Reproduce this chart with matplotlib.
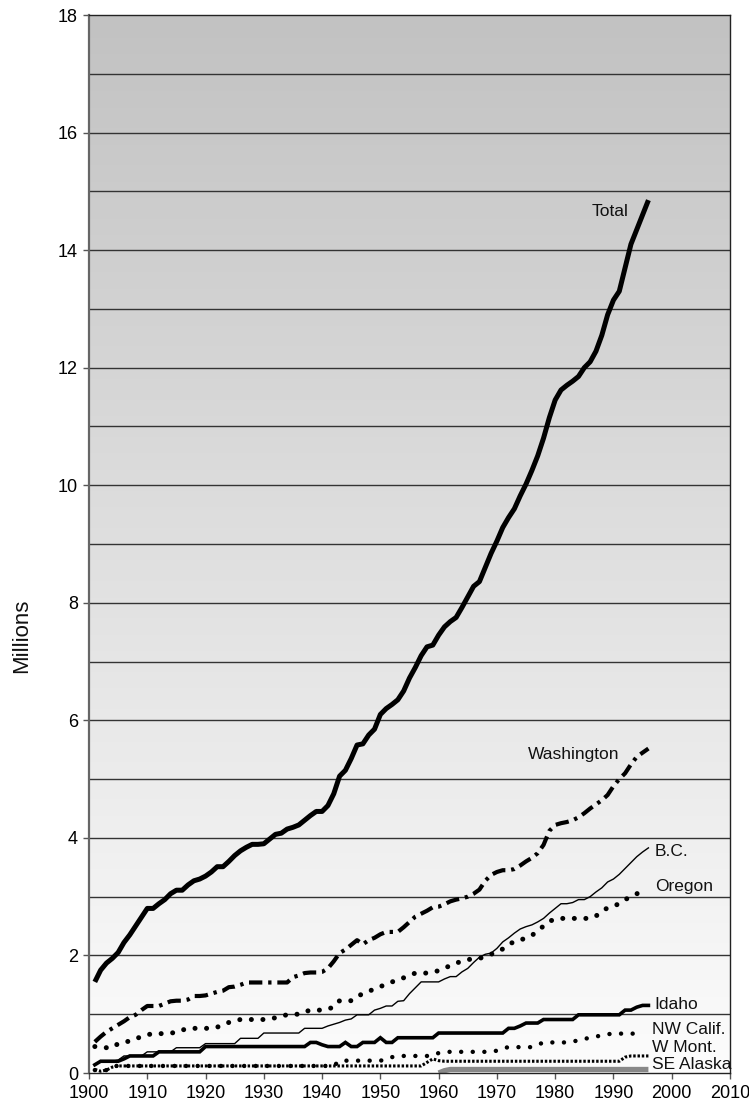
import matplotlib
matplotlib.use('Agg')
import matplotlib.pyplot as plt
import numpy as np
from matplotlib.colors import LinearSegmentedColormap

plt.rcParams['font.family'] = ['Liberation Sans', 'DejaVu Sans']

# ---------------- data (millions) ----------------
years = list(range(1901, 1997))

total = [1.55, 1.75, 1.87, 1.95, 2.05, 2.22, 2.35, 2.50, 2.65, 2.80,
         2.80, 2.88, 2.95, 3.05, 3.11, 3.11, 3.20, 3.27, 3.30, 3.35,
         3.42, 3.51, 3.51, 3.60, 3.70, 3.78, 3.84, 3.89, 3.89, 3.90,
         3.98, 4.06, 4.08, 4.15, 4.18, 4.22, 4.30, 4.38, 4.45, 4.45,
         4.55, 4.75, 5.05, 5.15, 5.35, 5.58, 5.60, 5.75, 5.85, 6.10,
         6.20, 6.27, 6.35, 6.50, 6.72, 6.90, 7.10, 7.25, 7.28, 7.45,
         7.59, 7.68, 7.75, 7.92, 8.10, 8.28, 8.36, 8.60, 8.84, 9.05,
         9.28, 9.45, 9.60, 9.82, 10.02, 10.25, 10.50, 10.80, 11.15, 11.45,
         11.62, 11.70, 11.77, 11.85, 12.00, 12.10, 12.28, 12.55, 12.90, 13.15,
         13.30, 13.70, 14.10, 14.35, 14.60, 14.85]

washington = [0.53, 0.62, 0.70, 0.76, 0.82, 0.88, 0.95, 0.99, 1.07, 1.14,
              1.14, 1.14, 1.18, 1.22, 1.23, 1.23, 1.25, 1.31, 1.31, 1.32,
              1.35, 1.38, 1.40, 1.46, 1.47, 1.50, 1.54, 1.54, 1.54, 1.54,
              1.54, 1.54, 1.54, 1.54, 1.63, 1.66, 1.70, 1.71, 1.71, 1.72,
              1.78, 1.90, 2.04, 2.10, 2.18, 2.26, 2.19, 2.26, 2.30, 2.36,
              2.40, 2.40, 2.40, 2.48, 2.57, 2.66, 2.71, 2.76, 2.82, 2.83,
              2.87, 2.92, 2.95, 2.97, 3.00, 3.05, 3.12, 3.27, 3.37, 3.42,
              3.45, 3.45, 3.47, 3.53, 3.60, 3.66, 3.74, 3.88, 4.12, 4.22,
              4.25, 4.27, 4.30, 4.35, 4.42, 4.50, 4.57, 4.64, 4.73, 4.88,
              5.00, 5.10, 5.25, 5.38, 5.45, 5.52]

bc = [0.15, 0.20, 0.20, 0.20, 0.22, 0.29, 0.29, 0.29, 0.29, 0.36,
      0.36, 0.36, 0.36, 0.36, 0.43, 0.43, 0.43, 0.43, 0.43, 0.50,
      0.50, 0.50, 0.50, 0.50, 0.50, 0.59, 0.59, 0.59, 0.59, 0.68,
      0.68, 0.68, 0.68, 0.68, 0.68, 0.68, 0.76, 0.76, 0.76, 0.76,
      0.80, 0.83, 0.86, 0.90, 0.92, 0.99, 0.99, 0.99, 1.07, 1.10,
      1.14, 1.14, 1.22, 1.23, 1.35, 1.45, 1.55, 1.55, 1.55, 1.55,
      1.60, 1.64, 1.64, 1.72, 1.78, 1.88, 1.97, 2.02, 2.04, 2.12,
      2.23, 2.30, 2.38, 2.45, 2.49, 2.52, 2.57, 2.63, 2.72, 2.80,
      2.88, 2.88, 2.90, 2.95, 2.95, 3.00, 3.08, 3.15, 3.25, 3.30,
      3.38, 3.48, 3.58, 3.68, 3.76, 3.83]

oregon_years = list(range(1901, 1996))
oregon = [0.45, 0.45, 0.43, 0.43, 0.50, 0.53, 0.54, 0.58, 0.62, 0.65,
          0.67, 0.67, 0.67, 0.68, 0.69, 0.73, 0.76, 0.76, 0.76, 0.76,
          0.76, 0.78, 0.82, 0.86, 0.89, 0.91, 0.91, 0.91, 0.91, 0.91,
          0.92, 0.94, 0.97, 0.99, 1.00, 1.00, 1.04, 1.07, 1.07, 1.07,
          1.09, 1.12, 1.23, 1.23, 1.23, 1.30, 1.35, 1.39, 1.43, 1.47,
          1.51, 1.55, 1.58, 1.62, 1.66, 1.70, 1.70, 1.70, 1.72, 1.74,
          1.78, 1.83, 1.87, 1.90, 1.93, 1.94, 1.95, 1.98, 2.02, 2.06,
          2.11, 2.18, 2.24, 2.26, 2.30, 2.34, 2.42, 2.50, 2.58, 2.62,
          2.63, 2.63, 2.63, 2.63, 2.63, 2.63, 2.67, 2.75, 2.81, 2.84,
          2.88, 2.95, 3.00, 3.05, 3.08]

idaho = [0.14, 0.20, 0.20, 0.20, 0.20, 0.24, 0.29, 0.29, 0.29, 0.29,
         0.29, 0.36, 0.36, 0.36, 0.36, 0.36, 0.36, 0.36, 0.36, 0.45,
         0.45, 0.45, 0.45, 0.45, 0.45, 0.45, 0.45, 0.45, 0.45, 0.45,
         0.45, 0.45, 0.45, 0.45, 0.45, 0.45, 0.45, 0.52, 0.52, 0.48,
         0.45, 0.45, 0.45, 0.52, 0.45, 0.45, 0.52, 0.52, 0.52, 0.60,
         0.52, 0.52, 0.60, 0.60, 0.60, 0.60, 0.60, 0.60, 0.60, 0.68,
         0.68, 0.68, 0.68, 0.68, 0.68, 0.68, 0.68, 0.68, 0.68, 0.68,
         0.68, 0.76, 0.76, 0.80, 0.85, 0.85, 0.85, 0.91, 0.91, 0.91,
         0.91, 0.91, 0.91, 0.99, 0.99, 0.99, 0.99, 0.99, 0.99, 0.99,
         0.99, 1.07, 1.07, 1.12, 1.15, 1.15]

nwcalif_years = list(range(1901, 1996))
nwcalif = [0.05, 0.03, 0.05, 0.12, 0.12, 0.12, 0.12, 0.12, 0.12, 0.12,
           0.12, 0.12, 0.12, 0.12, 0.12, 0.12, 0.12, 0.12, 0.12, 0.12,
           0.12, 0.12, 0.12, 0.12, 0.12, 0.12, 0.12, 0.12, 0.12, 0.12,
           0.12, 0.12, 0.12, 0.12, 0.12, 0.12, 0.12, 0.12, 0.12, 0.12,
           0.12, 0.12, 0.21, 0.21, 0.21, 0.21, 0.21, 0.21, 0.21, 0.21,
           0.23, 0.27, 0.29, 0.29, 0.29, 0.29, 0.29, 0.29, 0.30, 0.34,
           0.36, 0.36, 0.36, 0.36, 0.36, 0.36, 0.36, 0.36, 0.36, 0.38,
           0.42, 0.44, 0.44, 0.44, 0.44, 0.44, 0.48, 0.52, 0.52, 0.52,
           0.52, 0.52, 0.54, 0.55, 0.58, 0.60, 0.62, 0.64, 0.66, 0.67,
           0.67, 0.67, 0.67, 0.67, 0.67]

wmont = [0.06, 0.03, 0.05, 0.10, 0.12, 0.12, 0.12, 0.12, 0.12, 0.12,
         0.12, 0.12, 0.12, 0.12, 0.12, 0.12, 0.12, 0.12, 0.12, 0.12,
         0.12, 0.12, 0.12, 0.12, 0.12, 0.12, 0.12, 0.12, 0.12, 0.12,
         0.12, 0.12, 0.12, 0.12, 0.12, 0.12, 0.12, 0.12, 0.12, 0.12,
         0.12, 0.12, 0.12, 0.12, 0.12, 0.12, 0.12, 0.12, 0.12, 0.12,
         0.12, 0.12, 0.12, 0.12, 0.12, 0.12, 0.12, 0.18, 0.24, 0.21,
         0.20, 0.20, 0.20, 0.20, 0.20, 0.20, 0.20, 0.20, 0.20, 0.20,
         0.20, 0.20, 0.20, 0.20, 0.20, 0.20, 0.20, 0.20, 0.20, 0.20,
         0.20, 0.20, 0.20, 0.20, 0.20, 0.20, 0.20, 0.20, 0.20, 0.20,
         0.20, 0.27, 0.29, 0.29, 0.29, 0.29]

sealaska_years = list(range(1960, 1997))
sealaska = [0.00, 0.04] + [0.06] * 35

x_ticks = list(range(1900, 2011, 10))
y_ticks = list(range(0, 19, 2))

# ---------------- figure ----------------
W, H = 749, 1108
fig = plt.figure(figsize=(W / 100, H / 100), dpi=100)
L, R, T, B = 89, 730, 15, 1073
ax = fig.add_axes([L / W, 1 - B / H, (R - L) / W, (B - T) / H])

grad = np.linspace(0, 1, 256).reshape(-1, 1)
cmap = LinearSegmentedColormap.from_list('g', ['#fcfcfc', '#c2c2c2'])
ax.imshow(grad, extent=[1900, 2010, 0, 18], origin='lower', aspect='auto',
          cmap=cmap, zorder=0, interpolation='bilinear')

for v in range(1, 18):
    ax.axhline(v, color='#333333', lw=1.0, zorder=1)

ax.plot(sealaska_years, sealaska, color='#888888', lw=3.8, solid_capstyle='butt', zorder=2)
ax.plot(years, wmont, color='black', lw=2.2, linestyle=(0, (0.8, 0.6)),
        dash_capstyle='butt', zorder=3)
ax.plot(nwcalif_years, nwcalif, color='black', lw=3.2, linestyle=(0, (0.01, 2.6)),
        dash_capstyle='round', zorder=3)
ax.plot(years, idaho, color='black', lw=2.6, solid_joinstyle='miter', zorder=4)
ax.plot(years, bc, color='black', lw=1.0, zorder=4)
ax.plot(oregon_years, oregon, color='black', lw=3.6, linestyle=(0, (0.01, 2.3)),
        dash_capstyle='round', zorder=4)
ax.plot(years, washington, color='black', lw=3.0, linestyle=(0, (3.2, 1.4, 0.8, 1.4)),
        dash_capstyle='butt', zorder=5)
ax.plot(years, total, color='black', lw=3.6, solid_joinstyle='round',
        solid_capstyle='butt', zorder=6)

ax.set_xlim(1900, 2010)
ax.set_ylim(0, 18)
ax.set_xticks(x_ticks)
ax.set_yticks(y_ticks)
ax.tick_params(axis='both', direction='out', length=4, width=1, color='#555555',
               labelsize=13, pad=4)
ax.tick_params(axis='x', pad=5)

for s in ['top', 'right', 'bottom']:
    ax.spines[s].set_color('#222222')
    ax.spines[s].set_linewidth(1.0)
ax.spines['left'].set_color('#666666')
ax.spines['left'].set_linewidth(1.6)

lab = dict(fontsize=12.5, color='#111111', va='center', zorder=7)
ax.text(1992.5, 14.65, 'Total', ha='right', **lab)
ax.text(1991.0, 5.42, 'Washington', ha='right', **lab)
ax.text(1997.1, 3.76, 'B.C.', ha='left', **lab)
ax.text(1997.1, 3.18, 'Oregon', ha='left', **lab)
ax.text(1997.1, 1.17, 'Idaho', ha='left', **lab)
ax.text(1996.6, 0.74, 'NW Calif.', ha='left', **lab)
ax.text(1996.6, 0.44, 'W Mont.', ha='left', **lab)
ax.text(1996.6, 0.15, 'SE Alaska', ha='left', **lab)

fig.text(22 / W, 1 - 636 / H, 'Millions', rotation=90, ha='center', va='center',
         fontsize=16, color='#111111')

fig.savefig('out.png', dpi=100)
